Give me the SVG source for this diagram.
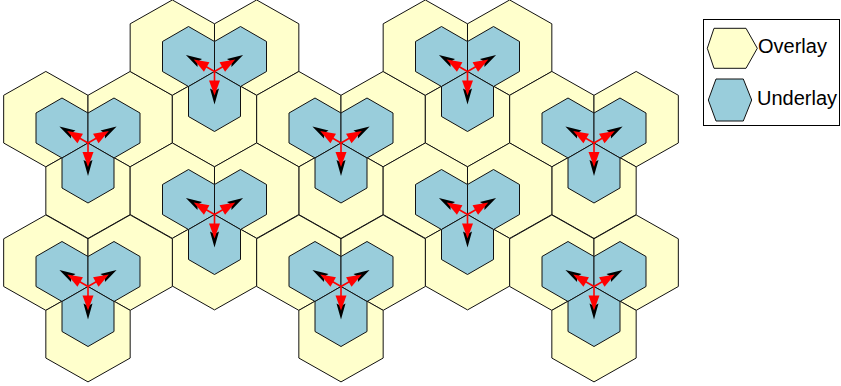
<svg xmlns="http://www.w3.org/2000/svg" xmlns:xlink="http://www.w3.org/1999/xlink" width="841" height="386" viewBox="0 0 841 386">
<style>
.ov{fill:#ffffcc;stroke:#111;stroke-width:1}
.un{fill:#99cddb;stroke:#111;stroke-width:1}
.lbl{font-family:"Liberation Sans",Arial,sans-serif;font-size:20px;fill:#000}
</style>
<defs>
<path id="yh" d="M0,-47.7 L42.17,-23.85 L42.17,23.85 L0,47.7 L-42.17,23.85 L-42.17,-23.85Z"/>
<path id="bh" d="M0,-30 L26,-15 L26,15 L0,30 L-26,15 L-26,-15Z"/>
<g id="cl">
<use xlink:href="#yh" class="ov" x="-42.17" y="-23.85"/>
<use xlink:href="#yh" class="ov" x="42.17" y="-23.85"/>
<use xlink:href="#yh" class="ov" x="0" y="47.7"/>
<use xlink:href="#bh" class="un" x="-26" y="-15"/>
<use xlink:href="#bh" class="un" x="26" y="-15"/>
<use xlink:href="#bh" class="un" x="0" y="30"/>
</g>
<g id="ar1">
<polygon points="0,33 -4.5,17 0,19.5 4.5,17" fill="#000"/>
<line x1="0" y1="0" x2="0" y2="10" stroke="#ff0000" stroke-width="1.6"/>
<polygon points="0,24 -5.5,9 5.5,9" fill="#ff0000"/>
</g>
<g id="ar3">
<use xlink:href="#ar1"/>
<use xlink:href="#ar1" transform="rotate(120)"/>
<use xlink:href="#ar1" transform="rotate(-120)"/>
</g>
</defs>
<g id="cluster-A" transform="translate(88,143)"><use xlink:href="#cl"/></g>
<g id="cluster-B" transform="translate(214.5,71.5)"><use xlink:href="#cl"/></g>
<g id="cluster-C" transform="translate(341,143)"><use xlink:href="#cl"/></g>
<g id="cluster-D" transform="translate(467.5,71.5)"><use xlink:href="#cl"/></g>
<g id="cluster-E" transform="translate(594,143)"><use xlink:href="#cl"/></g>
<g id="cluster-F" transform="translate(214.5,214.5)"><use xlink:href="#cl"/></g>
<g id="cluster-G" transform="translate(467.5,214.5)"><use xlink:href="#cl"/></g>
<g id="cluster-H" transform="translate(88,286.5)"><use xlink:href="#cl"/></g>
<g id="cluster-I" transform="translate(341,286.5)"><use xlink:href="#cl"/></g>
<g id="cluster-J" transform="translate(594,286.5)"><use xlink:href="#cl"/></g>
<g id="connectors">
<use xlink:href="#ar3" x="88" y="143"/>
<use xlink:href="#ar3" x="214.5" y="71.5"/>
<use xlink:href="#ar3" x="341" y="143"/>
<use xlink:href="#ar3" x="467.5" y="71.5"/>
<use xlink:href="#ar3" x="594" y="143"/>
<use xlink:href="#ar3" x="214.5" y="214.5"/>
<use xlink:href="#ar3" x="467.5" y="214.5"/>
<use xlink:href="#ar3" x="88" y="286.5"/>
<use xlink:href="#ar3" x="341" y="286.5"/>
<use xlink:href="#ar3" x="594" y="286.5"/>
</g>
<g id="legend">
<rect x="703.5" y="19.5" width="136" height="106" fill="#fff" stroke="#000" stroke-width="1"/>
<g id="legend-overlay">
<polygon class="ov" points="707.3,48.3 714,28.3 746,28.3 757.3,48.3 746,68.3 714,68.3"/>
<text class="lbl" x="758" y="53">Overlay</text>
</g>
<g id="legend-underlay">
<polygon class="un" points="708.3,100 716,79 743.3,79 751.7,100 743.3,121 716,121"/>
<text class="lbl" x="757" y="105">Underlay</text>
</g>
</g>
</svg>
